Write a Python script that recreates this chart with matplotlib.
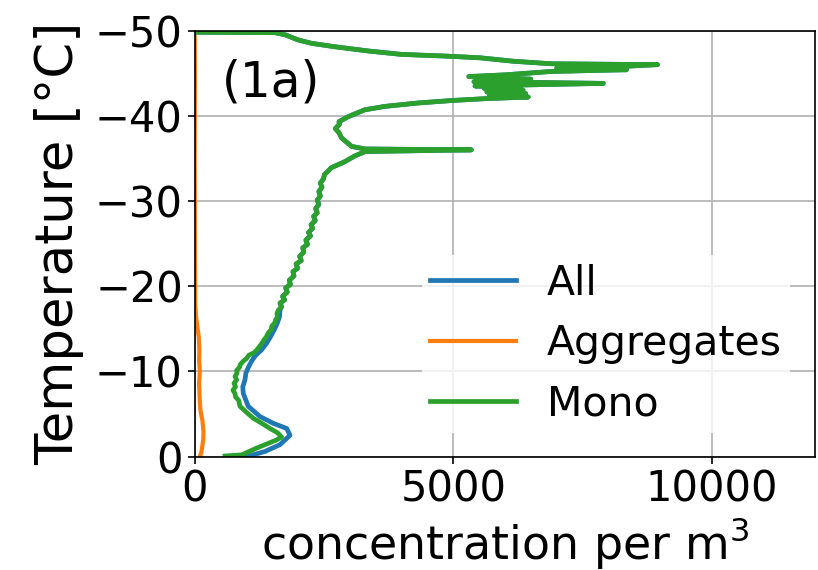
import matplotlib
matplotlib.use("Agg")
import matplotlib.pyplot as plt

# temperature [°C] and concentration per m^3, Mono (green)
mono_temp = [-0.05, -0.2, -1.0, -1.96, -2.3, -2.8, -3.3, -3.9, -4.5, -5.2, -5.9, -6.6, -7.0, -7.4,
             -7.8, -8.2, -8.6, -9.0, -9.4, -9.8, -10.1, -10.5, -10.8, -11.2, -11.5, -11.9,
             -12.2, -12.5, -12.9, -13.3, -13.7, -14.1, -14.5, -14.9, -15.3, -15.7, -16.0,
             -16.4, -16.8, -17.2, -17.6,
             -18.0, -18.4, -18.8, -19.3, -19.8, -20.2, -20.7, -21.2, -21.7, -22.1, -22.6, -23.0,
             -23.5, -24.0, -24.5, -24.9, -25.4, -25.9, -26.3, -26.8, -27.2, -27.7, -28.2, -28.6,
             -29.1, -29.6, -30.1, -30.6, -31.1, -31.6, -32.1, -32.6, -33.1, -33.5, -33.9, -34.6,
             -35.3, -35.8, -36.0, -36.1, -36.4, -37.4, -38.0, -38.5, -39.0, -39.3, -39.9, -40.7,
             -41.1, -41.5, -41.8, -42.0, -42.2, -42.4, -42.6, -42.8, -43.0, -43.2, -43.4, -43.5,
             -43.8, -44.0, -44.3, -44.6, -44.8, -45.2, -45.4, -45.6, -45.8, -46.0, -46.1, -46.4,
             -46.8, -47.0, -47.2, -47.6, -48.1, -48.5, -48.9, -49.5, -49.75, -49.8]
mono_conc = [590, 908, 1200, 1585, 1680, 1600, 1456, 1300, 1133, 1000, 876, 850, 790, 779,
             740, 790, 760, 812, 780, 820, 810, 870, 880, 940, 1000, 1050,
             1150, 1200, 1250, 1300, 1340, 1390, 1420, 1480, 1490, 1550, 1560,
             1600, 1590, 1620, 1680,
             1650, 1740, 1700, 1790, 1760, 1850, 1830, 1920, 1900, 1990, 1960, 2060,
             2030, 2110, 2090, 2180, 2150, 2240, 2200, 2280, 2250, 2330, 2300, 2370,
             2340, 2400, 2370, 2430, 2400, 2460, 2430, 2490, 2510, 2580, 2640, 2900,
             3100, 3300, 5350, 3300, 3035, 2840, 2790, 2720, 2800, 2790, 2970, 3290,
             3680, 4320, 5000, 5600, 6450, 5700, 6400, 5650, 6350, 5600, 6300, 5420,
             7900, 5400, 6500, 5300, 6000, 6900, 8350, 7000, 8300, 8950, 6900, 6160,
             5520, 4870, 4000, 3360, 2710, 2260, 2000, 1750, 1550, 0]

# All (blue): its own values below -17 °C, above that it runs under the green line
all_low_temp = [-0.05, -0.1, -0.6, -1.4, -2.5, -3.3, -3.9, -4.7, -5.9, -7.4, -8.2, -9.0, -9.8,
                -10.5, -11.2, -11.9, -12.5, -13.3, -14.1, -14.9, -15.7, -16.4, -17.2]
all_low_conc = [590, 1070, 1360, 1650, 1843, 1779, 1520, 1262, 1036, 940, 930, 972, 990,
                1040, 1100, 1180, 1290, 1390, 1470, 1540, 1600, 1640, 1650]
all_temp = all_low_temp + mono_temp[40:]
all_conc = all_low_conc + mono_conc[40:]

# Aggregates (orange)
agg_temp = [0.0, -0.5, -2.0, -3.0, -4.2, -5.5, -7.0, -8.6, -10.0, -11.3, -12.5, -14.0, -15.3,
            -16.5, -18.0, -25.0, -35.0, -45.0, -50.0]
agg_conc = [100, 130, 166, 170, 150, 110, 95, 85, 100, 85, 90, 80, 50,
            25, 10, 5, 0, 5, 0]

fig = plt.figure(figsize=(8.18, 5.70), dpi=100)
ax = fig.add_axes([0.238, 0.199, 0.7587, 0.7474])

ax.plot(all_conc, all_temp, color="#1f77b4", lw=3.4, label="All")
ax.plot(agg_conc, agg_temp, color="#ff7f0e", lw=3.0, label="Aggregates")
ax.plot(mono_conc, mono_temp, color="#2ca02c", lw=3.4, label="Mono")

ax.set_xlim(0, 12000)
ax.set_ylim(0, -50)
ax.set_xticks([0, 5000, 10000])
ax.set_yticks([-50, -40, -30, -20, -10, 0])
ax.grid(True, color="#b0b0b0", lw=1.2)
ax.set_axisbelow(True)

ax.tick_params(labelsize=30, length=5, width=1.2)
for s in ax.spines.values():
    s.set_linewidth(1.2)

ax.set_xlabel("concentration per m$^3$", fontsize=33, labelpad=3)
ax.set_ylabel("Temperature [°C]", fontsize=37, labelpad=8)

ax.text(0.044, 0.845, "(1a)", transform=ax.transAxes, fontsize=35, va="baseline")

leg = ax.legend(loc="lower right", bbox_to_anchor=(0.959, 0.056), borderaxespad=0,
                fontsize=29.5, framealpha=0.8, edgecolor="none", fancybox=False,
                borderpad=0.2, handlelength=2.1, handletextpad=0.75)

fig.savefig("out.png", dpi=100)
